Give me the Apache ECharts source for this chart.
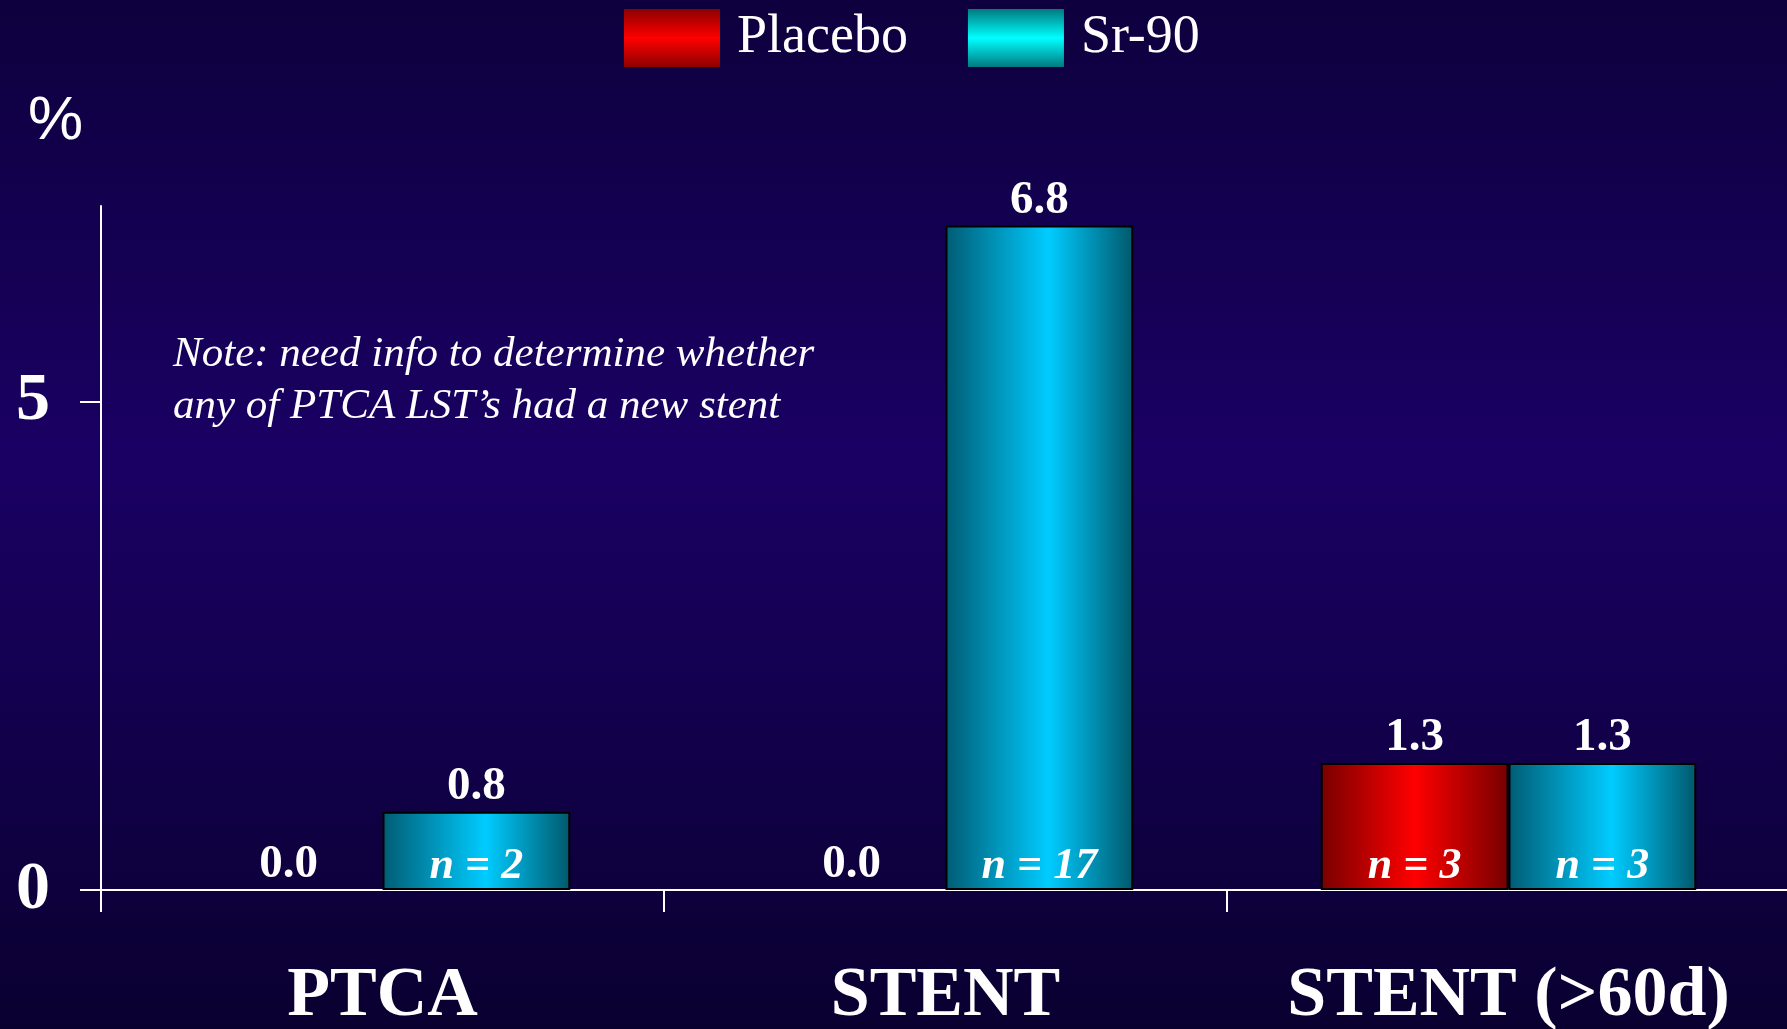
<!DOCTYPE html>
<html>
<head>
<meta charset="utf-8">
<title>Late stent thrombosis</title>
<script src="https://cdn.jsdelivr.net/npm/echarts@6/dist/echarts.min.js"></script>
<style>
  html, body { margin: 0; padding: 0; background: #120050; }
  #chart { width: 1787px; height: 1029px; }
</style>
</head>
<body>
<div id="chart"></div>
<script>
// Late stent thrombosis rate (%) by procedure group
const categories = ['PTCA', 'STENT', 'STENT (>60d)'];
const placeboValues = [0.0, 0.0, 1.3];
const sr90Values = [0.8, 6.8, 1.3];
// number of patients behind each rate (null = no events)
const placeboCounts = [null, null, 3];
const sr90Counts = [2, 17, 3];
const yTickValues = [0, 5];
const yMax = 7;
const noteLines = ['Note: need info to determine whether', 'any of PTCA LST\u2019s had a new stent'];

const SERIF = '"Liberation Serif", "Times New Roman", Times, serif';
const SANS = '"Liberation Sans", Arial, Helvetica, sans-serif';

const chart = echarts.init(document.getElementById('chart'), null, { renderer: 'canvas' });

const hGrad = (edgeL, mid, edgeR, pos) => new echarts.graphic.LinearGradient(0, 0, 1, 0, [
  { offset: 0, color: edgeL }, { offset: pos, color: mid }, { offset: 1, color: edgeR }
]);
const vGrad = (edge, mid) => new echarts.graphic.LinearGradient(0, 0, 0, 1, [
  { offset: 0, color: edge }, { offset: 0.5, color: mid }, { offset: 1, color: edge }
]);

const redBar = hGrad('#780000', '#ff0000', '#760000', 0.5);
const cyanBar = hGrad('#005c74', '#00ccff', '#00586c', 0.55);

// bars of zero height are drawn without an outline
const barData = (values) => values.map(v => ({
  value: v,
  itemStyle: v === 0 ? { borderWidth: 0 } : undefined
}));

const countLabel = (counts) => ({
  show: true,
  position: 'insideBottom',
  distance: 1,
  formatter: (p) => counts[p.dataIndex] == null ? '' : 'n = ' + counts[p.dataIndex],
  color: '#ffffff',
  fontFamily: SERIF,
  fontStyle: 'italic',
  fontWeight: 'bold',
  fontSize: 44,
  lineHeight: 44,
  textShadowColor: '#000000',
  textShadowOffsetX: 2,
  textShadowOffsetY: 2,
  textShadowBlur: 0
});

const valueLabel = (values) => ({
  show: true,
  position: 'top',
  distance: 2,
  formatter: (p) => values[p.dataIndex].toFixed(1),
  color: '#ffffff',
  fontFamily: SERIF,
  fontWeight: 'bold',
  fontSize: 47,
  lineHeight: 46
});

// transparent zero-height caps sitting on each stack carry the value labels
const capSeries = (name, stack, values) => ({
  name: name,
  type: 'bar',
  stack: stack,
  silent: true,
  data: values.map(() => 0),
  itemStyle: { color: 'rgba(0,0,0,0)', borderWidth: 0 },
  label: valueLabel(values)
});

const option = {
  animation: false,
  backgroundColor: new echarts.graphic.LinearGradient(0, 0, 0, 1, [
    { offset: 0, color: '#0e003e' },
    { offset: 0.45, color: '#1a0064' },
    { offset: 1, color: '#0a0030' }
  ]),
  legend: {
    left: 619,
    top: 4,
    itemWidth: 96,
    itemHeight: 58,
    itemGap: 60,
    selectedMode: false,
    icon: 'rect',
    textStyle: {
      color: '#ffffff',
      fontFamily: SERIF,
      fontSize: 54,
      padding: [0, 0, 0, 12]
    },
    data: [
      { name: 'Placebo', itemStyle: { color: vGrad('#8e0000', '#ff0000'), borderWidth: 0 } },
      { name: 'Sr-90', itemStyle: { color: vGrad('#007a80', '#00ffff'), borderWidth: 0 } }
    ]
  },
  grid: {
    left: 101, right: -3, top: 206, bottom: 139,
    containLabel: false,
    outerBoundsMode: 'none'
  },
  xAxis: {
    type: 'category',
    data: categories,
    boundaryGap: true,
    axisLine: { lineStyle: { color: '#ffffff', width: 2 } },
    axisTick: { show: true, interval: 0, length: 22, lineStyle: { color: '#ffffff', width: 2 } },
    axisLabel: {
      interval: 0,
      hideOverlap: false,
      color: '#ffffff',
      fontFamily: SERIF,
      fontWeight: 'bold',
      fontSize: 70,
      lineHeight: 70,
      margin: 72
    },
    splitLine: { show: false }
  },
  yAxis: {
    type: 'value',
    min: 0,
    max: yMax,
    axisLine: { show: true, lineStyle: { color: '#ffffff', width: 2 } },
    axisTick: { show: true, length: 21, customValues: yTickValues, lineStyle: { color: '#ffffff', width: 2 } },
    axisLabel: {
      customValues: yTickValues,
      color: '#ffffff',
      fontFamily: SERIF,
      fontWeight: 'bold',
      fontSize: 68,
      margin: 51
    },
    splitLine: { show: false }
  },
  graphic: [
    {
      type: 'text',
      left: 28,
      top: 91,
      style: { text: '%', fill: '#ffffff', font: '62px ' + SANS }
    },
    {
      type: 'text',
      left: 173,
      top: 329,
      style: {
        text: noteLines.join('\n'),
        fill: '#ffffff',
        font: 'italic 43px ' + SERIF,
        lineHeight: 52
      }
    }
  ],
  series: [
    {
      name: 'Placebo',
      type: 'bar',
      stack: 'placebo',
      barGap: '0%',
      barCategoryGap: '33.3%',
      data: barData(placeboValues),
      itemStyle: { color: redBar, borderColor: '#000000', borderWidth: 2 },
      label: countLabel(placeboCounts)
    },
    capSeries('Placebo value', 'placebo', placeboValues),
    {
      name: 'Sr-90',
      type: 'bar',
      stack: 'sr90',
      barGap: '0%',
      barCategoryGap: '33.3%',
      data: barData(sr90Values),
      itemStyle: { color: cyanBar, borderColor: '#000000', borderWidth: 2 },
      label: countLabel(sr90Counts)
    },
    capSeries('Sr-90 value', 'sr90', sr90Values)
  ]
};

chart.setOption(option);
</script>
</body>
</html>
